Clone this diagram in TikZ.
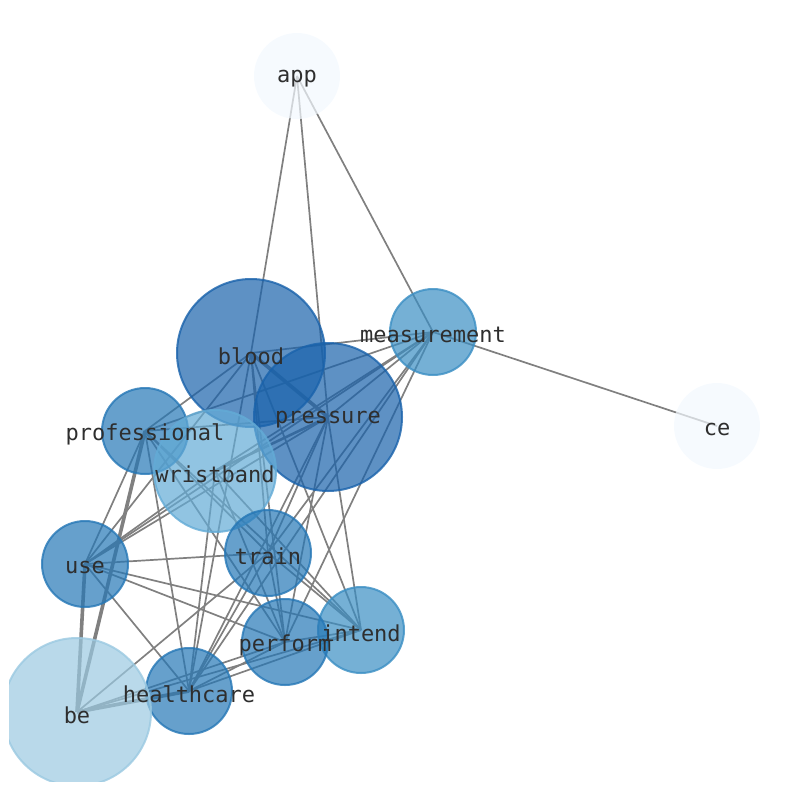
\documentclass[tikz,border=0pt]{standalone}
\usepackage{fontspec}
\setmonofont{DejaVu Sans Mono}
\usetikzlibrary{backgrounds}
\definecolor{cDark}{HTML}{1962AB}
\definecolor{cMid}{HTML}{2577B6}
\definecolor{cMed}{HTML}{3A8EC3}
\definecolor{cWb}{HTML}{63ABD6}
\definecolor{cBe}{HTML}{9BC9E1}
\definecolor{cPale}{HTML}{F2F8FE}
\begin{document}
\begin{tikzpicture}[x=1pt,y=-1pt,
  nd/.style={circle, inner sep=0pt, fill=#1, draw=#1, fill opacity=0.7, draw opacity=0.8, line width=2pt},
  big/.style={minimum size=148pt},
  mid/.style={minimum size=86pt},
  wb/.style={minimum size=122pt},
  lbl/.style={font=\ttfamily\fontsize{22}{26}\selectfont, text=black!82, inner sep=0pt, yshift=-3pt},
  ed/.style={draw=black!50, line width=1.7pt},
  edt/.style={draw=black!50, line width=3.6pt}]
\useasboundingbox (0,0) rectangle (794,790);
\begin{scope}
\clip (9,0) rectangle (794,781);
\node[nd=cPale, draw=none, mid] (A) at (297,76) {};
\node[nd=cDark, big] (B) at (251,353) {};
\node[nd=cMed, mid] (M) at (433,332) {};
\node[nd=cPale, draw=none, mid] (C) at (717,426) {};
\node[nd=cDark, big] (P) at (328,417) {};
\node[nd=cMid, mid] (Pr) at (145,431) {};
\node[nd=cWb, wb] (W) at (215,471) {};
\node[nd=cMid, mid] (U) at (85,564) {};
\node[nd=cMid, mid] (T) at (268,553) {};
\node[nd=cMed, mid] (I) at (361,630) {};
\node[nd=cMid, mid] (Pf) at (285,642) {};
\node[nd=cMid, mid] (H) at (189,691) {};
\node[nd=cBe, big] (Be) at (77,712) {};
\end{scope}
\begin{pgfonlayer}{background}
\foreach \a/\b in {A/B, A/P, A/M, M/C,
  B/M, B/Pr, B/U, B/T, B/Pf, B/I, B/H,
  P/M, P/Pr, P/U, P/T, P/Pf, P/I, P/H,
  M/Pr, M/U, M/T, M/Pf, M/H, M/W,
  Pr/U, Pr/H, Pr/T, Pr/Pf, Pr/I,
  W/H, W/I, W/Pf, W/U,
  U/T, U/Pf, U/I, U/H,
  T/Be, T/H, T/Pf, T/I,
  Pf/H, Pf/Be, Pf/I,
  I/H, I/Be}
  \draw[ed] (\a.center) -- (\b.center);
\draw[edt] (B.center) -- (P.center);
\draw[ed, line width=2.6pt] (P.center) -- (W.center);
\draw[edt] (Pr.center) -- (Be.center);
\draw[edt] (U.center) -- (Be.center);
\draw[edt] (H.center) -- (Be.center);
\end{pgfonlayer}
\node[lbl] (lA) at (A) {app};
\node[lbl] (lB) at (B) {blood};
\node[lbl] (lM) at (M) {measurement};
\node[lbl] (lC) at (C) {ce};
\node[lbl] (lP) at (P) {pressure};
\node[lbl] (lPr) at (Pr) {professional};
\node[lbl] (lW) at (W) {wristband};
\node[lbl] (lU) at (U) {use};
\node[lbl] (lT) at (T) {train};
\node[lbl] (lI) at (I) {intend};
\node[lbl] (lPf) at (Pf) {perform};
\node[lbl] (lH) at (H) {healthcare};
\node[lbl] (lBe) at (Be) {be};
\end{tikzpicture}
\end{document}
